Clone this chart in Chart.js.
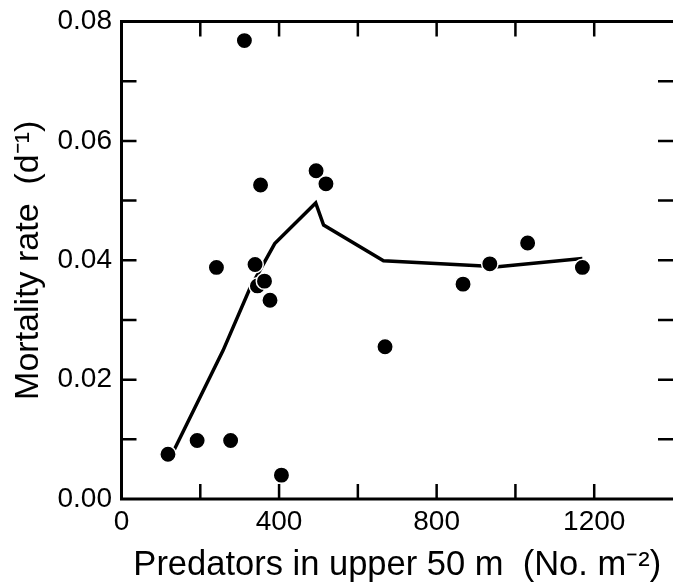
<!DOCTYPE html>
<html>
<head>
<meta charset="utf-8">
<script src="https://cdn.jsdelivr.net/npm/chart.js@4.4.0/dist/chart.umd.min.js"></script>
<style>
  html, body { margin: 0; padding: 0; background: #fff; }
</style>
</head>
<body>
<canvas id="mortality" width="673" height="583"></canvas>
<script>
// observations: predators in upper 50 m vs. mortality rate
const predators = [118, 192, 241, 277, 312, 339, 345, 353, 363, 377, 406, 494, 519, 669, 867, 935, 1031, 1170];
const mortality = [0.0075, 0.0098, 0.0388, 0.0098, 0.0768, 0.0393, 0.0357, 0.0526, 0.0365, 0.0333, 0.0040, 0.0550, 0.0528, 0.0255, 0.0360, 0.0394, 0.0429, 0.0388];

// smoothed curve through the points
const curveX = [126, 258, 326, 389, 493, 513, 665, 955, 1170];
const curveY = [0.0072, 0.0249, 0.0353, 0.0428, 0.0496, 0.0459, 0.0399, 0.0389, 0.0403];

const xLabelled = [0, 400, 800, 1200];
const yLabelled = [0, 0.02, 0.04, 0.06, 0.08];

const FONT = '"Liberation Sans", Arial, Helvetica, sans-serif';

// box with inward ticks on all four sides
const frameTicks = {
  id: 'frameTicks',
  beforeDatasetsDraw(chart) {
    const { ctx, chartArea: a, scales: { x, y } } = chart;
    const len = 15;
    ctx.save();
    ctx.strokeStyle = '#000';
    ctx.lineWidth = 3;
    ctx.beginPath();
    ctx.moveTo(a.right + 3, a.top);
    ctx.lineTo(a.left, a.top);
    ctx.lineTo(a.left, a.bottom);
    ctx.lineTo(a.right + 3, a.bottom);
    ctx.stroke();

    ctx.lineWidth = 2.5;
    ctx.beginPath();
    x.ticks.forEach(t => {
      if (t.value <= x.min || t.value >= x.max) return;
      const px = x.getPixelForValue(t.value);
      ctx.moveTo(px, a.bottom);
      ctx.lineTo(px, a.bottom - len);
      ctx.moveTo(px, a.top);
      ctx.lineTo(px, a.top + len);
    });
    y.ticks.forEach(t => {
      if (t.value <= y.min + 1e-9 || t.value >= y.max - 1e-9) return;
      const py = y.getPixelForValue(t.value);
      ctx.moveTo(a.left, py);
      ctx.lineTo(a.left + len, py);
      ctx.moveTo(a.right, py);
      ctx.lineTo(a.right - len, py);
    });
    ctx.stroke();
    ctx.restore();
  }
};

new Chart(document.getElementById('mortality'), {
  type: 'scatter',
  data: {
    datasets: [
      {
        label: 'observed',
        data: predators.map((v, i) => ({ x: v, y: mortality[i] })),
        backgroundColor: '#000',
        borderColor: '#fff',
        borderWidth: 1.5,
        pointRadius: 8.2
      },
      {
        label: 'curve',
        data: curveX.map((v, i) => ({ x: v, y: curveY[i] })),
        showLine: true,
        borderColor: '#000',
        borderWidth: 3.5,
        borderJoinStyle: 'miter',
        pointRadius: 0
      }
    ]
  },
  options: {
    responsive: false,
    animation: false,
    layout: { autoPadding: false, padding: { top: 21.5, right: -1, left: 0, bottom: 0 } },
    plugins: { legend: { display: false }, tooltip: { enabled: false } },
    scales: {
      x: {
        type: 'linear',
        min: 0,
        max: 1400,
        grid: { display: false, drawTicks: false },
        border: { display: false },
        afterFit: s => { s.height = 84; s.paddingLeft = 0; s.paddingRight = 0; },
        ticks: {
          stepSize: 200,
          autoSkip: false,
          maxRotation: 0,
          padding: 6,
          color: '#000',
          font: { family: FONT, size: 28 },
          callback: v => xLabelled.includes(v) ? String(v) : ''
        },
        title: {
          display: true,
          text: 'Predators in upper 50 m  (No. m\u207B\u00B2)',
          color: '#000',
          font: { family: FONT, size: 34.5, lineHeight: 1.2 },
          padding: { top: 0, bottom: -2.7 }
        }
      },
      y: {
        min: 0,
        max: 0.08,
        grid: { display: false, drawTicks: false },
        border: { display: false },
        afterFit: s => { s.width = 121.5; s.paddingTop = 0; s.paddingBottom = 0; },
        ticks: {
          stepSize: 0.01,
          autoSkip: false,
          padding: 9.5,
          color: '#000',
          font: { family: FONT, size: 28 },
          callback: v => yLabelled.some(l => Math.abs(l - v) < 1e-6) ? v.toFixed(2) : ''
        },
        title: {
          display: true,
          text: 'Mortality rate  (d\u207B\u00B9)',
          color: '#000',
          font: { family: FONT, size: 34, lineHeight: 1.2 },
          padding: { top: 8, bottom: 0 }
        }
      }
    }
  },
  plugins: [frameTicks]
});
</script>
</body>
</html>
